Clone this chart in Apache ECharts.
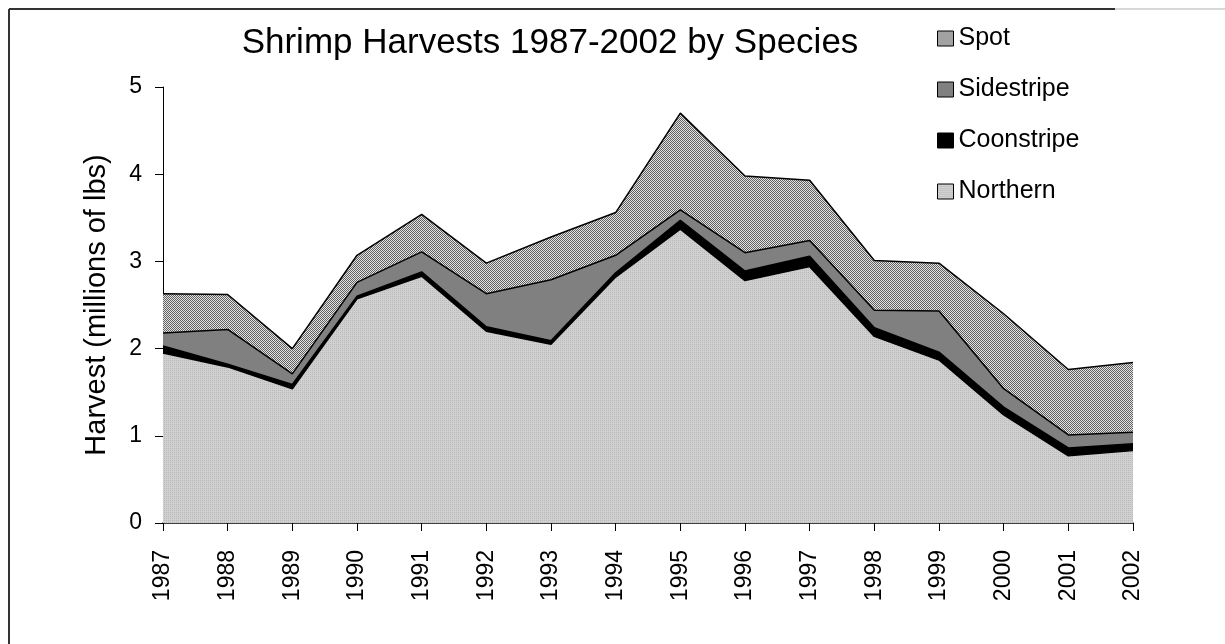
<!DOCTYPE html>
<html>
<head>
<meta charset="utf-8">
<script src="https://cdn.jsdelivr.net/npm/echarts@6/dist/echarts.min.js"></script>
<style>
  html, body { margin: 0; padding: 0; background: #fff; }
  #chart { width: 1225px; height: 644px; }
</style>
</head>
<body>
<div id="chart"></div>
<script>
// ---- Data (millions of lbs, stacked: Northern at bottom) ----
const years = ['1987','1988','1989','1990','1991','1992','1993','1994','1995','1996','1997','1998','1999','2000','2001','2002'];
const northern   = [1.95, 1.79, 1.54, 2.57, 2.83, 2.20, 2.05, 2.82, 3.37, 2.78, 2.94, 2.14, 1.87, 1.24, 0.77, 0.83];
const coonstripe = [0.08, 0.03, 0.05, 0.03, 0.05, 0.05, 0.04, 0.05, 0.10, 0.11, 0.12, 0.10, 0.09, 0.09, 0.09, 0.08];
const sidestripe = [0.15, 0.40, 0.12, 0.16, 0.23, 0.38, 0.70, 0.20, 0.12, 0.21, 0.18, 0.20, 0.47, 0.21, 0.15, 0.13];
const spot       = [0.45, 0.40, 0.29, 0.31, 0.43, 0.35, 0.49, 0.49, 1.11, 0.88, 0.69, 0.57, 0.55, 0.86, 0.75, 0.80];
const yTicks = [0, 1, 2, 3, 4, 5];

function makePattern(size, fn) {
  const c = document.createElement('canvas');
  c.width = size; c.height = size;
  const ctx = c.getContext('2d');
  for (let y = 0; y < size; y++) for (let x = 0; x < size; x++) {
    ctx.fillStyle = fn(x, y);
    ctx.fillRect(x, y, 1, 1);
  }
  return { image: c, repeat: 'repeat' };
}
const spotFill = makePattern(2, (x, y) => ((x + y) % 2 === 0) ? '#606060' : '#e4e4e4');
const northFill = makePattern(2, (x, y) => (x === 0 && y === 0) ? '#b9b9b9' : '#d0d0d0');
const sideFill = '#808080';
const coonFill = '#000000';

const FONT = '"Liberation Sans", Arial, sans-serif';

function areaSeries(name, data, fill) {
  return {
    name: name,
    type: 'line',
    stack: 'total',
    data: data,
    symbol: 'none',
    lineStyle: { color: '#000', width: 1.5 },
    itemStyle: { color: fill, borderColor: '#000', borderWidth: 1 },
    areaStyle: { color: fill, opacity: 1 },
    emphasis: { disabled: true },
    animation: false
  };
}

const chart = echarts.init(document.getElementById('chart'), null, { renderer: 'canvas' });
chart.setOption({
  backgroundColor: '#fff',
  animation: false,
  title: {
    text: 'Shrimp Harvests 1987-2002 by Species',
    left: 545,
    top: 21,
    textAlign: 'center',
    textStyle: { fontFamily: FONT, fontSize: 35, fontWeight: 'normal', color: '#000' }
  },
  legend: {
    orient: 'vertical',
    left: 932,
    top: 21,
    itemWidth: 16,
    itemHeight: 15,
    itemGap: 26,
    icon: 'rect',
    textStyle: { fontFamily: FONT, fontSize: 25, color: '#000', lineHeight: 25, padding: [0, 0, 0, 0] },
    data: [
      { name: 'Spot', icon: 'rect', itemStyle: { color: spotFill, borderColor: '#000', borderWidth: 1 } },
      { name: 'Sidestripe', icon: 'rect', itemStyle: { color: sideFill, borderColor: '#000', borderWidth: 1 } },
      { name: 'Coonstripe', icon: 'rect', itemStyle: { color: coonFill, borderColor: '#000', borderWidth: 1 } },
      { name: 'Northern', icon: 'rect', itemStyle: { color: northFill, borderColor: '#000', borderWidth: 1 } }
    ]
  },
  grid: { left: 163, right: 92, top: 87, bottom: 121, containLabel: false },
  xAxis: {
    type: 'category',
    data: years,
    boundaryGap: false,
    axisLine: { lineStyle: { color: '#000', width: 1.5 } },
    axisTick: { alignWithLabel: true, length: 8, inside: false, lineStyle: { color: '#000' } },
    axisLabel: { rotate: 90, margin: 27, fontFamily: FONT, fontSize: 23, color: '#000' },
    splitLine: { show: false }
  },
  yAxis: {
    type: 'value',
    min: yTicks[0],
    max: yTicks[yTicks.length - 1],
    interval: 1,
    name: 'Harvest (millions of lbs)',
    nameLocation: 'middle',
    nameRotate: 90,
    nameGap: 52,
    nameTextStyle: { fontFamily: FONT, fontSize: 29, color: '#000' },
    axisLine: { show: true, lineStyle: { color: '#000', width: 1 } },
    axisTick: { show: true, length: 8, lineStyle: { color: '#000' } },
    axisLabel: { margin: 21, fontFamily: FONT, fontSize: 23, color: '#000' },
    splitLine: { show: false }
  },
  series: [
    areaSeries('Northern', northern, northFill),
    areaSeries('Coonstripe', coonstripe, coonFill),
    areaSeries('Sidestripe', sidestripe, sideFill),
    areaSeries('Spot', spot, spotFill)
  ],
  graphic: [
    { type: 'line', shape: { x1: 9, y1: 9, x2: 9, y2: 644 }, style: { stroke: '#333', lineWidth: 2 }, silent: true },
    { type: 'line', shape: { x1: 9, y1: 9, x2: 1115, y2: 9 }, style: { stroke: '#333', lineWidth: 2 }, silent: true },
    { type: 'line', shape: { x1: 1115, y1: 9, x2: 1225, y2: 9 }, style: { stroke: '#d8d8d8', lineWidth: 2 }, silent: true }
  ]
});
</script>
</body>
</html>
